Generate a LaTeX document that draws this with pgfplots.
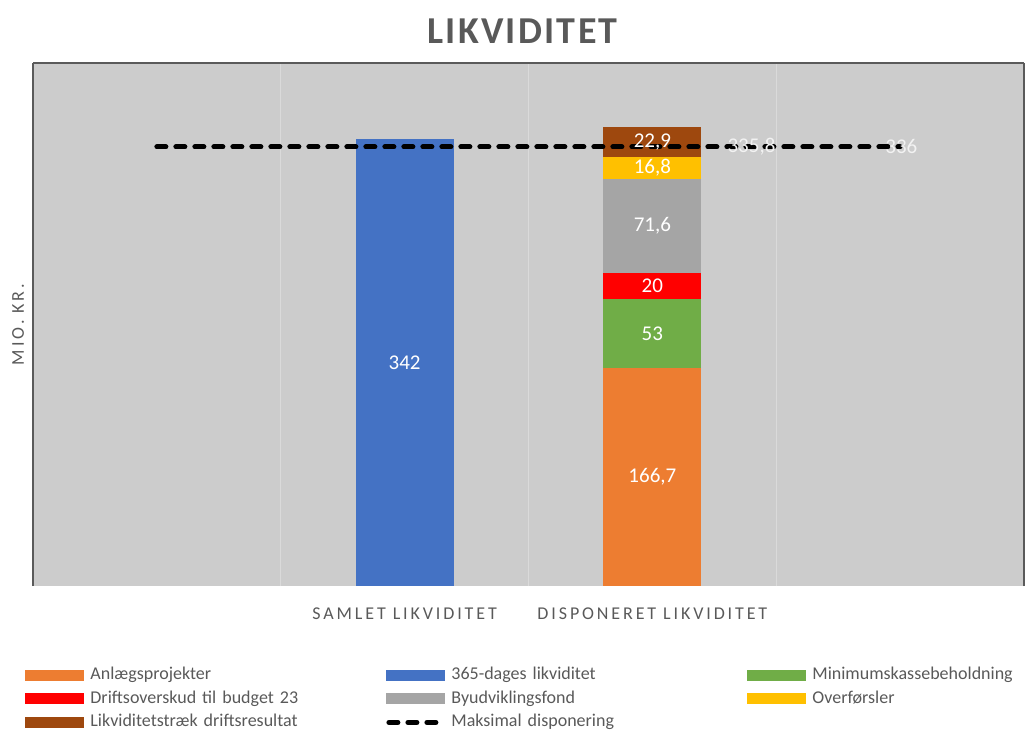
\documentclass[border=0pt]{standalone}
\usepackage{fontspec}
\setmainfont{Carlito}
\newfontfamily\lsfont[LetterSpace=16]{Carlito}
\newfontfamily\titlefont[LetterSpace=6]{Carlito}
\usepackage{pgfplots}
\pgfplotsset{compat=1.18}
\definecolor{bg}{HTML}{CCCCCC}
\definecolor{gridc}{HTML}{DADADA}
\definecolor{txt}{HTML}{595959}
\definecolor{axc}{HTML}{5A5A5A}
\definecolor{cOrange}{HTML}{ED7D31}
\definecolor{cBlue}{HTML}{4472C4}
\definecolor{cGreen}{HTML}{70AD47}
\definecolor{cRed}{HTML}{FF0000}
\definecolor{cGray}{HTML}{A5A5A5}
\definecolor{cYellow}{HTML}{FFC000}
\definecolor{cBrown}{HTML}{9E480E}
\pgfplotsset{
  barimg/.style={legend image code/.code={\fill[##1] (0pt,-2.75pt) rectangle (29.5pt,2.75pt);}},
  dashimg/.style={legend image code/.code={\draw[##1] (1.25pt,0pt) -- (25pt,0pt);}},
}
\begin{document}
\begin{tikzpicture}
\useasboundingbox (-16.5pt,-74pt) rectangle (496.5pt,293pt);
\begin{axis}[
  at={(0,0)}, anchor=south west,
  width=495.5pt, height=261.5pt, scale only axis,
  ybar stacked, bar width=49pt,
  xmin=-0.5, xmax=3.5, ymin=0, ymax=400,
  axis background/.style={fill=bg},
  axis line style={draw=none},
  ytick=\empty,
  xtick={1,2}, xticklabels={SAMLET LIKVIDITET, DISPONERET LIKVIDITET},
  major tick length=0pt,
  minor xtick={0.5,1.5,2.5}, minor tick length=0pt,
  xminorgrids, minor grid style={draw=gridc, line width=0.6pt},
  xticklabel style={font=\lsfont\fontsize{9}{10}\selectfont, text=txt, yshift=-7.5pt},
  every axis title/.style={at={(axis description cs:0.5,1)}, anchor=center, yshift=16pt, xshift=-3pt},
  title style={font=\titlefont\bfseries\fontsize{19}{21}\selectfont, text=txt},
  title={LIKVIDITET},
  every axis y label/.style={at={(axis description cs:-0.0151,0.5)}, rotate=90, anchor=center},
  ylabel style={font=\lsfont\fontsize{9}{10}\selectfont, text=txt},
  ylabel={MIO. KR.},
  legend columns=3,
  legend cell align=left,
  barimg,
  legend style={at={(axis description cs:-0.00807,-0.1539)}, anchor=north west,
    draw=none, fill=none, inner sep=0pt,
    font=\fontsize{9}{10}\selectfont, text=txt,
    nodes={inner sep=0pt, text height=6.5pt, text depth=2pt, text width=148pt, align=left},
    /tikz/every odd column/.append style={column sep=3pt},
    row sep=3.25pt},
]
\addplot[fill=cOrange, draw=none] coordinates {(1,0) (2,166.7)};
\addlegendentry{Anlægsprojekter}
\addplot[fill=cBlue, draw=none] coordinates {(1,342) (2,0)};
\addlegendentry{365-dages likviditet}
\addplot[fill=cGreen, draw=none] coordinates {(1,0) (2,53)};
\addlegendentry{Minimumskassebeholdning}
\addplot[fill=cRed, draw=none] coordinates {(1,0) (2,20)};
\addlegendentry{Driftsoverskud til budget 23}
\addplot[fill=cGray, draw=none] coordinates {(1,0) (2,71.6)};
\addlegendentry{Byudviklingsfond}
\addplot[fill=cYellow, draw=none] coordinates {(1,0) (2,16.8)};
\addlegendentry{Overførsler}
\addplot[fill=cBrown, draw=none] coordinates {(1,0) (2,22.9)};
\addlegendentry{Likviditetstræk driftsresultat}
\addlegendimage{dashimg, draw=black, line width=2.5pt, dash pattern=on 4.5pt off 5pt, line cap=round}
\addlegendentry{Maksimal disponering}
\end{axis}
\begin{axis}[
  at={(0,0)}, anchor=south west,
  width=495.5pt, height=261.5pt, scale only axis,
  xmin=-0.5, xmax=3.5, ymin=0, ymax=400,
  axis x line=top, axis y line=box,
  axis line style={-, draw=axc, line width=0.9pt},
  every outer x axis line/.append style={-},
  every outer y axis line/.append style={-},
  xtick=\empty, ytick=\empty, clip=false,
]
\addplot[draw=black, line width=2.5pt, dash pattern=on 4.5pt off 5pt, line cap=round]
  coordinates {(0,335.8) (1,335.8) (2,335.8) (3,335.8)};
\addplot[only marks, mark=*, mark size=0pt, mark options={draw=none, fill=none},
  point meta=explicit symbolic, nodes near coords,
  nodes near coords style={anchor=center, text=white, font=\fontsize{10.5}{12}\selectfont}]
  table[meta=lab] {
x y lab
1 171 342
2 83.35 166,7
2 193.2 53
2 229.7 20
2 275.5 71,6
2 319.7 16,8
2 339.55 22,9
};
\addplot[only marks, mark=*, mark size=0pt, mark options={draw=none, fill=none},
  point meta=explicit symbolic, nodes near coords,
  nodes near coords style={anchor=center, text=white!95!black, font=\fontsize{10.5}{12}\selectfont}]
  table[meta=lab] {
x y lab
2.40 335.8 335,8
3.005 335.8 336
};
\end{axis}
\end{tikzpicture}
\end{document}
